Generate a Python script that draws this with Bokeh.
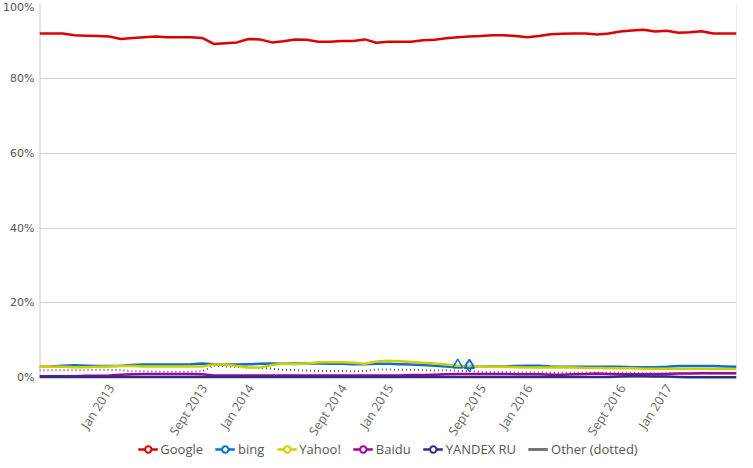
import math
from bokeh.plotting import figure
from bokeh.models import (Range1d, FixedTicker, PrintfTickFormatter, Legend, LegendItem)
from bokeh.core.properties import value
from bokeh.embed import file_html
from bokeh.resources import INLINE

# Monthly data, July 2012 .. July 2017 (index 0..60)
months = list(range(61))
tick_idx = [6, 14, 18, 26, 30, 38, 42, 50, 54]
tick_labels = ["Jan 2013", "Sept 2013", "Jan 2014", "Sept 2014", "Jan 2015",
               "Sept 2015", "Jan 2016", "Sept 2016", "Jan 2017"]
y_ticks = [0, 20, 40, 60, 80, 100]

google = [92.0, 92.0, 92.0, 91.5, 91.4, 91.3, 91.2, 90.5, 90.8, 91.0,
          91.2, 91.0, 91.0, 91.0, 90.8, 89.2, 89.4, 89.6, 90.5, 90.4,
          89.6, 89.9, 90.4, 90.3, 89.8, 89.8, 90.0, 90.0, 90.4, 89.5,
          89.8, 89.8, 89.8, 90.2, 90.3, 90.7, 91.0, 91.2, 91.3, 91.5,
          91.5, 91.3, 91.0, 91.3, 91.8, 91.9, 92.0, 92.0, 91.7, 92.0,
          92.5, 92.8, 93.0, 92.5, 92.7, 92.2, 92.3, 92.6, 92.0, 92.0, 92.0]
bing = [2.9, 3.0, 3.2, 3.3, 3.2, 3.1, 3.1, 3.2, 3.4, 3.5,
        3.5, 3.5, 3.5, 3.6, 3.8, 3.6, 3.5, 3.5, 3.6, 3.7,
        3.8, 3.7, 3.8, 3.8, 3.8, 3.7, 3.7, 3.6, 3.6, 3.7,
        3.7, 3.6, 3.5, 3.4, 3.2, 3.0, 2.8, 2.9, 2.9, 3.0,
        3.0, 3.1, 3.2, 3.2, 3.0, 2.9, 2.9, 2.9, 2.9, 2.9,
        2.9, 2.8, 2.8, 2.8, 2.9, 3.1, 3.1, 3.1, 3.1, 3.0, 2.9]
yahoo = [2.9, 2.9, 2.9, 2.8, 2.8, 2.9, 3.0, 3.1, 3.1, 3.0,
         3.0, 3.0, 3.0, 3.0, 3.0, 3.5, 3.5, 3.1, 2.7, 2.7,
         3.4, 3.7, 3.6, 3.8, 4.1, 4.1, 4.1, 4.0, 3.7, 4.3,
         4.5, 4.4, 4.2, 4.0, 3.8, 3.5, 3.2, 3.0, 2.9, 2.9,
         2.9, 2.8, 2.7, 2.7, 2.7, 2.8, 2.7, 2.6, 2.6, 2.5,
         2.5, 2.5, 2.4, 2.4, 2.4, 2.4, 2.4, 2.4, 2.3, 2.3, 2.3]
baidu = [0.4, 0.4, 0.4, 0.4, 0.5, 0.5, 0.6, 0.8, 0.9, 1.0,
         1.0, 1.0, 1.0, 1.0, 0.9, 0.6, 0.6, 0.6, 0.6, 0.6,
         0.6, 0.6, 0.6, 0.6, 0.6, 0.6, 0.6, 0.6, 0.6, 0.6,
         0.6, 0.6, 0.7, 0.7, 0.8, 0.9, 1.0, 1.0, 1.0, 1.0,
         1.0, 0.9, 0.9, 0.9, 0.8, 0.8, 0.9, 1.0, 1.1, 1.0,
         0.9, 0.9, 0.9, 0.9, 1.0, 1.1, 1.1, 1.2, 1.2, 1.2, 1.2]
yandex = [0.2, 0.2, 0.2, 0.2, 0.2, 0.2, 0.2, 0.2, 0.2, 0.2,
          0.2, 0.2, 0.2, 0.2, 0.2, 0.2, 0.2, 0.2, 0.2, 0.2,
          0.2, 0.2, 0.2, 0.2, 0.2, 0.2, 0.2, 0.2, 0.2, 0.2,
          0.2, 0.2, 0.2, 0.2, 0.2, 0.2, 0.2, 0.2, 0.2, 0.2,
          0.2, 0.2, 0.2, 0.2, 0.2, 0.2, 0.2, 0.2, 0.2, 0.2,
          0.3, 0.35, 0.35, 0.3, 0.3, 0.2, 0.1, 0.1, 0.1, 0.1, 0.1]
other = [2.0, 2.0, 2.0, 2.0, 2.0, 2.1, 2.1, 2.0, 1.7, 1.7,
         1.6, 1.6, 1.6, 1.6, 1.7, 3.2, 3.0, 2.9, 2.7, 2.6,
         2.4, 2.1, 2.0, 1.9, 1.8, 1.8, 1.8, 1.7, 1.8, 2.2,
         2.2, 2.1, 2.1, 2.0, 1.9, 2.0, 1.8, 1.8, 1.5, 1.5,
         1.5, 1.4, 1.4, 1.4, 1.3, 1.3, 1.3, 1.3, 1.3, 1.3,
         1.3, 1.3, 1.2, 1.2, 1.2, 1.2, 1.2, 1.1, 1.1, 1.1, 1.1]
# highlighted bing points (hover markers in the original)
marker_idx = [36, 37]
marker_val = [3.4, 3.3]

names = ["Google", "bing", "Yahoo!", "Baidu", "YANDEX RU"]
colors = ["#dd0000", "#0b6fd4", "#d0d000", "#a000a0", "#2e2e80"]
series = [google, bing, yahoo, baidu, yandex]

FONT = "Open Sans"
NAN = float("nan")
Y_MIN, Y_MAX = 0, 100
X_MIN, X_MAX = months[0], months[-1]
BOTTOM_SPACE = 21.6   # room (in axis units) under 0% for the date labels and legend

p = figure(width=737, height=458, output_backend="svg", toolbar_location=None,
           x_range=Range1d(X_MIN, X_MAX), y_range=Range1d(-BOTTOM_SPACE, Y_MAX),
           min_border_top=3, min_border_right=1, min_border_left=0, min_border_bottom=0)
p.outline_line_color = None
p.xaxis.visible = False

p.xgrid.grid_line_color = None
p.ygrid.grid_line_color = "#d0d0d0"
p.ygrid.grid_line_width = 1

p.yaxis.ticker = FixedTicker(ticks=y_ticks)
p.yaxis.formatter = PrintfTickFormatter(format="%d%%")
p.yaxis.axis_line_color = None
p.yaxis.major_tick_line_color = None
p.yaxis.minor_tick_line_color = None
p.yaxis.major_tick_out = 0
p.yaxis.major_tick_in = 0
p.yaxis.major_label_text_color = "#555555"
p.yaxis.major_label_text_font = "DejaVu Sans"
p.yaxis.major_label_text_font_size = "11px"
p.yaxis.major_label_standoff = 5

# plot-area borders (left axis line and right edge), spanning 0..100 %
p.segment(x0=[X_MIN], y0=[Y_MIN], x1=[X_MIN], y1=[Y_MAX], line_color="#cccccc", line_width=2)
p.segment(x0=[X_MAX], y0=[Y_MIN], x1=[X_MAX], y1=[Y_MAX], line_color="#d8d8d8", line_width=1)

# date tick labels, rotated
p.text(x=tick_idx, y=[Y_MIN] * len(tick_idx), text=tick_labels,
       angle=math.radians(57), x_offset=2, y_offset=8,
       text_align="right", text_baseline="middle",
       text_font=value(FONT), text_font_size=value("12.5px"), text_color="#666666")

# Other (dotted) line
p.line(months, other, line_color="#555555", line_width=2, line_dash="1 3")

for name, col, data in zip(names, colors, series):
    p.line(months, data, line_color=col, line_width=2.5, line_join="round")

# blue hover-like markers
p.scatter(marker_idx, marker_val, marker="triangle", size=10, fill_color=None,
          line_color=colors[1], line_width=1.5)
p.scatter([marker_idx[1]], [marker_val[1]], marker="diamond", size=12, fill_color=None,
          line_color=colors[1], line_width=1.5)

items = []
for name, col in zip(names, colors):
    dl = p.line([NAN], [NAN], line_color=col, line_width=2.5)
    dd = p.scatter([NAN], [NAN], marker="circle", size=9,
                   fill_color="white", line_color=col, line_width=2)
    items.append(LegendItem(label=name, renderers=[dl, dd]))
do = p.line([NAN], [NAN], line_color="#777777", line_width=3)
items.append(LegendItem(label="Other (dotted)", renderers=[do]))

legend = Legend(items=items, orientation="horizontal", location="bottom_center",
                label_text_font=FONT, label_text_font_size="13px",
                label_text_color="#555555", glyph_width=20, glyph_height=16,
                label_standoff=3, spacing=12, padding=1, margin=0,
                border_line_color=None, background_fill_alpha=0)
p.add_layout(legend, "center")

open("out.html", "w").write(file_html(p, INLINE))
